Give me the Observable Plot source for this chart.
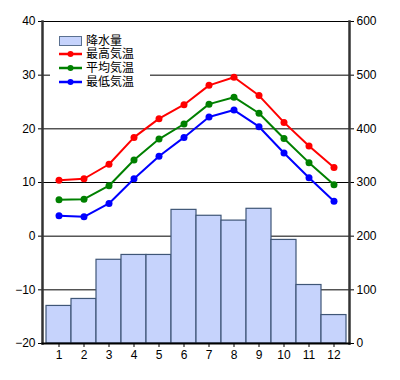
<!DOCTYPE html>
<html><head><meta charset="utf-8">
<script src="https://cdn.jsdelivr.net/npm/d3@7"></script>
<script src="https://cdn.jsdelivr.net/npm/@observablehq/plot@0.6"></script>
<style>
body{margin:0;background:#fff;}
#wrap{position:relative;width:400px;height:380px;}
#legend{position:absolute;left:50px;top:30px;width:100px;height:60px;background:#fff;}
</style>
</head><body>
<div id="wrap"><div id="chart"></div><svg id="legend" width="100" height="60"></svg></div>
<script>
const months = ["1","2","3","4","5","6","7","8","9","10","11","12"];
const precip = [70, 83, 156, 165, 165, 249, 238, 229, 251, 193, 109, 53];
const tMax = [10.4, 10.7, 13.4, 18.4, 21.9, 24.5, 28.1, 29.6, 26.2, 21.2, 16.8, 12.8];
const tMean = [6.8, 6.9, 9.4, 14.2, 18.1, 20.9, 24.6, 25.9, 22.9, 18.2, 13.7, 9.6];
const tMin = [3.8, 3.6, 6.1, 10.7, 14.9, 18.4, 22.2, 23.5, 20.4, 15.5, 10.9, 6.5];
const tempTicks = [-20, -10, 0, 10, 20, 30, 40];
const precipTicks = [0, 100, 200, 300, 400, 500, 600];
const seriesNames = ["降水量", "最高気温", "平均気温", "最低気温"];
const seriesColors = ["#c6d3fc", "#ff0000", "#008000", "#0000ff"];

// precipitation (0..600) shares the temperature scale (-20..40)
const pToT = p => p / 10 - 20;

const bars = months.map((m, i) => ({month: m, p: precip[i]}));
const lines = [];
[[tMax, seriesNames[1], seriesColors[1]], [tMean, seriesNames[2], seriesColors[2]], [tMin, seriesNames[3], seriesColors[3]]]
  .forEach(([arr, name, color]) => months.forEach((m, i) => lines.push({month: m, t: arr[i], name, color})));

const font = "'Liberation Sans', Arial, sans-serif";
const chart = Plot.plot({
  width: 400, height: 380,
  marginLeft: 42, marginRight: 51, marginTop: 21, marginBottom: 37,
  style: {fontSize: "12px", fontFamily: font, color: "#000", background: "#fff"},
  x: {type: "band", domain: months, padding: 0, label: null},
  y: {domain: [-20, 40], label: null},
  marks: [
    Plot.gridY(tempTicks, {stroke: "#000", strokeOpacity: 1, strokeWidth: 1}),
    Plot.barY(bars, {x: "month", y1: () => -20, y2: d => pToT(d.p), fill: "#c6d3fc", stroke: "#3f5677", strokeWidth: 1.2, inset: 0}),
    Plot.line(lines, {x: "month", y: "t", z: "name", stroke: "color", strokeWidth: 2}),
    Plot.dot(lines, {x: "month", y: "t", fill: "color", r: 3.5}),
    Plot.axisY(tempTicks, {anchor: "left", tickSize: 4, tickPadding: 3, label: null, fontSize: 12}),
    Plot.axisY(tempTicks, {anchor: "right", tickSize: 4, tickPadding: 3, label: null, tickFormat: (d) => String(precipTicks[tempTicks.indexOf(d)])}),
    Plot.axisX({tickSize: 4, tickPadding: 3, label: null}),
    Plot.frame({anchor: "left", stroke: "#333", strokeWidth: 2.5}),
    Plot.frame({anchor: "right", stroke: "#333", strokeWidth: 2.5}),
    Plot.frame({anchor: "bottom", stroke: "#000", strokeWidth: 2})
  ]
});
document.getElementById("chart").appendChild(chart);

// legend
const lg = d3.select("#legend");
const rowY = [11, 24, 38, 52];
seriesNames.forEach((name, i) => {
  const g = lg.append("g").attr("transform", `translate(0,${rowY[i]})`);
  if (i === 0) {
    g.append("rect").attr("x", 9.5).attr("y", -4.5).attr("width", 22).attr("height", 9)
      .attr("fill", seriesColors[0]).attr("stroke", "#5a7090");
  } else {
    g.append("line").attr("x1", 9).attr("x2", 32).attr("stroke", seriesColors[i]).attr("stroke-width", 2.5);
    g.append("circle").attr("cx", 20.5).attr("r", 3).attr("fill", seriesColors[i]);
  }
  g.append("text").attr("x", 36).attr("y", 0).attr("dy", "0.36em")
    .attr("font-family", "'Noto Sans CJK JP', sans-serif").attr("font-size", 12).text(name);
});
</script>
</body></html>
